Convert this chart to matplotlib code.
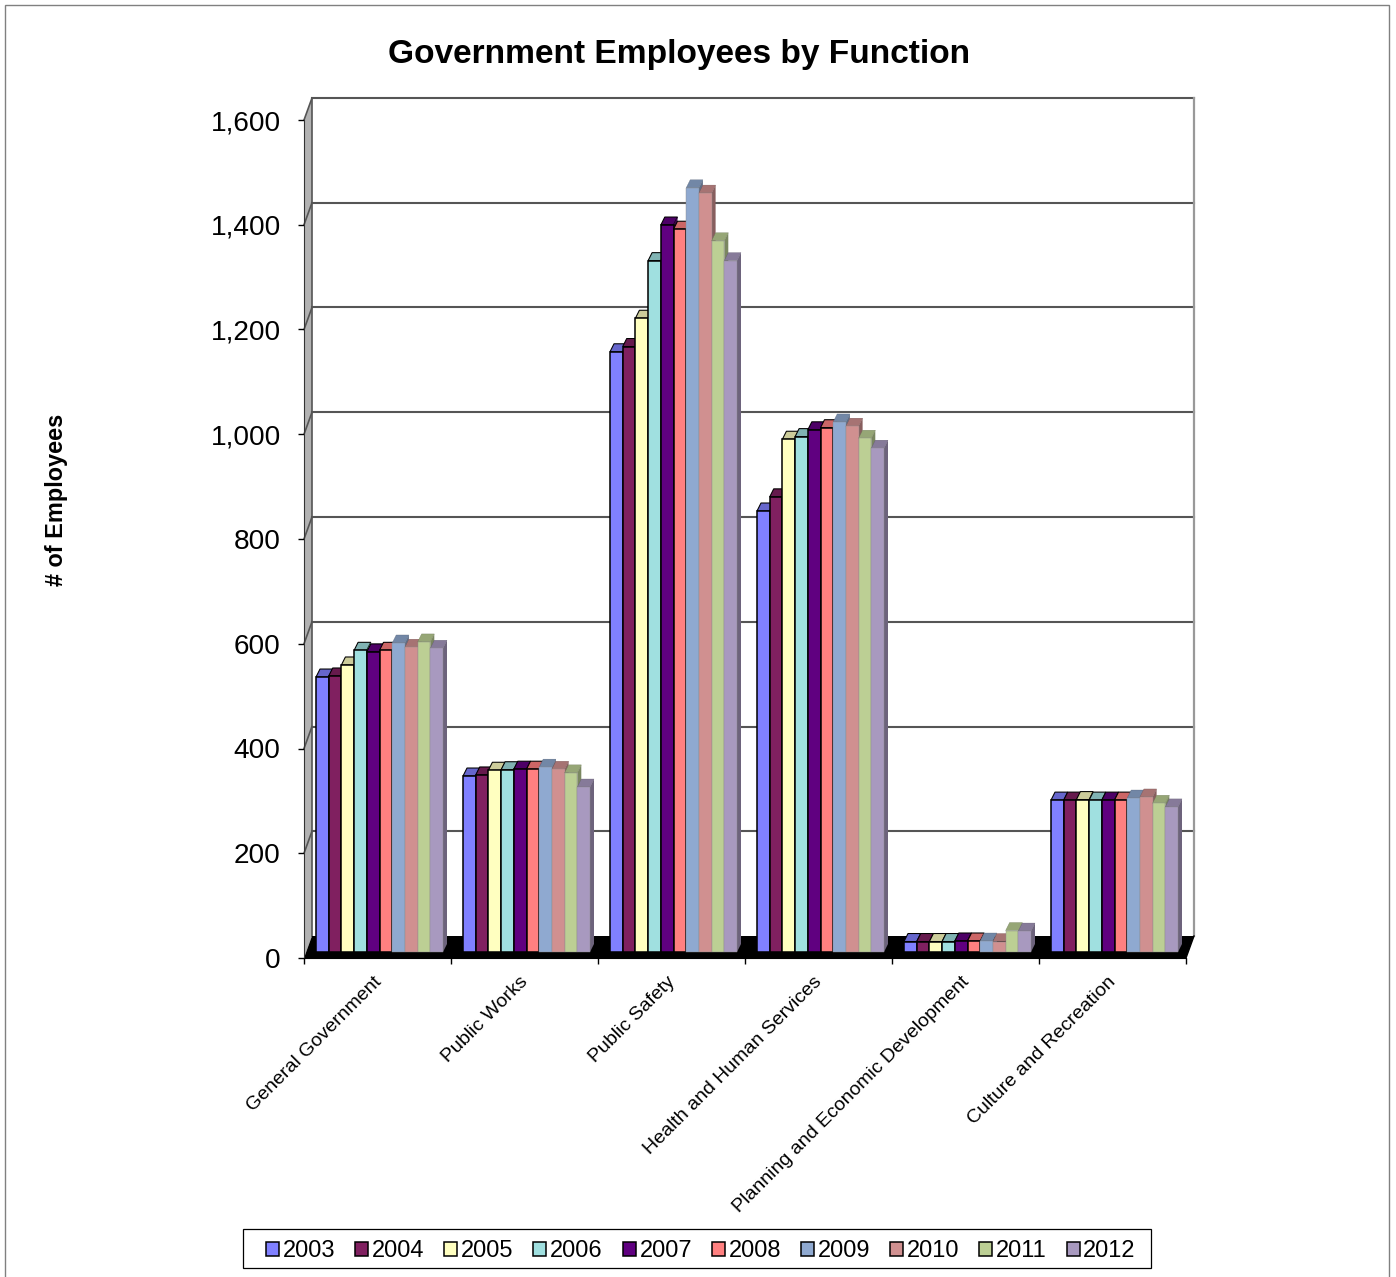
import numpy as np
import matplotlib
matplotlib.use('Agg')
import matplotlib.pyplot as plt
from matplotlib.patches import Rectangle

categories = ['General Government', 'Public Works', 'Public Safety',
              'Health and Human Services', 'Planning and Economic Development',
              'Culture and Recreation']
years = ['2003', '2004', '2005', '2006', '2007', '2008', '2009', '2010', '2011', '2012']

v2003 = [525, 336, 1146, 842, 20, 290]
v2004 = [527, 338, 1156, 869, 20, 290]
v2005 = [548, 347, 1210, 979, 20, 291]
v2006 = [576, 348, 1320, 984, 20, 290]
v2007 = [573, 349, 1388, 997, 21, 290]
v2008 = [576, 349, 1380, 1001, 21, 290]
v2009 = [590, 353, 1459, 1012, 21, 294]
v2010 = [582, 349, 1449, 1004, 20, 296]
v2011 = [592, 342, 1358, 981, 41, 284]
v2012 = [580, 315, 1320, 962, 40, 277]
series = [v2003, v2004, v2005, v2006, v2007, v2008, v2009, v2010, v2011, v2012]

colors = ['#8080FF', '#802060', '#FFFFC0', '#A0E0E0', '#600080',
          '#FF8080', '#8FA9D0', '#D09090', '#BCCF94', '#A899BF']
yticks = [0, 200, 400, 600, 800, 1000, 1200, 1400, 1600]

W, H = 1396, 1277
PX = 147.0            # pixels per category
PY = 838 / 1600.0     # pixels per employee

plt.rcParams['font.family'] = ['Liberation Sans', 'DejaVu Sans']
fig = plt.figure(figsize=(W / 100, H / 100), dpi=100)
ax = fig.add_axes([304 / W, (H - 958) / H, 882 / W, 838 / H])
ax.set_xlim(0, 6)
ax.set_ylim(0, 1600)
ax.patch.set_visible(False)

# page border
fig.add_artist(Rectangle((5 / W, -0.02), 1384 / W, 1.02 - 5 / H, transform=fig.transFigure,
                         fill=False, ec='#808080', lw=1))

# depth of the back wall, and of a bar
wx, wy = 8 / PX, 22 / PY
bx, by = 4 / PX, 8 / PY
base = 6 / PY
grid_c = '#555555'

# left wall, floor, gridlines
ax.fill([0, wx, wx, 0], [0, wy, 1600 + wy, 1600], color='#b2b2b2', lw=0, clip_on=False, zorder=1)
ax.fill([0, 6, 6 + wx, wx], [0, 0, wy, wy], color='black', lw=0, clip_on=False, zorder=2)
for t in yticks[1:]:
    ax.plot([wx, 6 + wx], [t + wy, t + wy], color=grid_c, lw=1.5, clip_on=False, zorder=1.5)
    ax.plot([0, wx], [t, t + wy], color=grid_c, lw=1.2, clip_on=False, zorder=1.5)
ax.plot([wx, wx], [wy, 1600 + wy], color=grid_c, lw=1.2, clip_on=False, zorder=1.5)
ax.plot([6 + wx, 6 + wx], [wy, 1600 + wy], color='#999999', lw=1.6, clip_on=False, zorder=1.5)
ax.plot([6, 6 + wx], [0, wy], color='black', lw=1, clip_on=False, zorder=2)

# bars, left to right so each one covers the side of the one before
width = 12.7 / PX
start = 12 / PX
handles = []
z = 3
for i in range(len(series)):
    c = np.array(matplotlib.colors.to_rgb(colors[i]))
    edge = 'black' if i < 6 else '#8c8c8c'
    lw = 1.1 if i < 6 else 0.3
    for j in range(len(categories)):
        x0 = j + start + i * width
        x1 = x0 + width
        top = series[i][j] + base
        ax.fill([x0, x1, x1 + bx, x0 + bx], [top, top, top + by, top + by],
                fc=c * 0.8, ec=c * 0.55 if i >= 6 else 'black', lw=lw * 0.7, clip_on=False, zorder=z)
        ax.fill([x1, x1 + bx, x1 + bx, x1], [base, base + by, top + by, top],
                fc=c * 0.65, ec='none', clip_on=False, zorder=z)
    bars = ax.bar([j + start + i * width for j in range(len(categories))], series[i],
                  width=width, bottom=base, align='edge', color=colors[i],
                  edgecolor=edge, linewidth=lw, clip_on=False, zorder=z + 0.5, label=years[i])
    handles.append(bars)
    z += 1

# axes
for s in ['top', 'right']:
    ax.spines[s].set_visible(False)
ax.spines['left'].set_color('#333333')
ax.spines['bottom'].set_color('black')
ax.set_yticks(yticks)
ax.set_yticklabels(['{:,}'.format(t) for t in yticks], fontsize=20.2)
ax.set_xticks(range(7))
ax.set_xticklabels([])
ax.tick_params(axis='y', length=4.5, width=1, pad=12.3)
ax.tick_params(axis='x', length=4.5, width=1)

for j, name in enumerate(categories):
    ax.annotate(name, xy=(j + 0.5, 0), xytext=(-3.5, -11), textcoords='offset points',
                rotation=45, rotation_mode='anchor', ha='right', va='top', fontsize=14)

fig.text(679 / W, 1 - 55 / H, 'Government Employees by Function', fontsize=24.1,
         fontweight='bold', ha='center', va='center')
fig.text(56 / W, 1 - 500 / H, '# of Employees', fontsize=16.9, fontweight='bold',
         rotation=90, ha='center', va='center')

# legend box drawn apart, its padding differs left/right from top/bottom
fig.add_artist(Rectangle((243 / W, 1 - 1268 / H), 908 / W, 39 / H, transform=fig.transFigure,
                         fc='white', ec='black', lw=0.9))
leg = fig.legend(handles=handles, labels=years, ncol=10, loc='center',
                 bbox_to_anchor=(701 / W, 1 - 1251 / H), fontsize=17,
                 frameon=False, handlelength=0.55, handleheight=0.55, handletextpad=0.16,
                 columnspacing=0.84, borderpad=0, borderaxespad=0)
for h in leg.legend_handles:
    h.set_edgecolor('black')
    h.set_linewidth(1.1)

fig.savefig('out.png', dpi=100)
